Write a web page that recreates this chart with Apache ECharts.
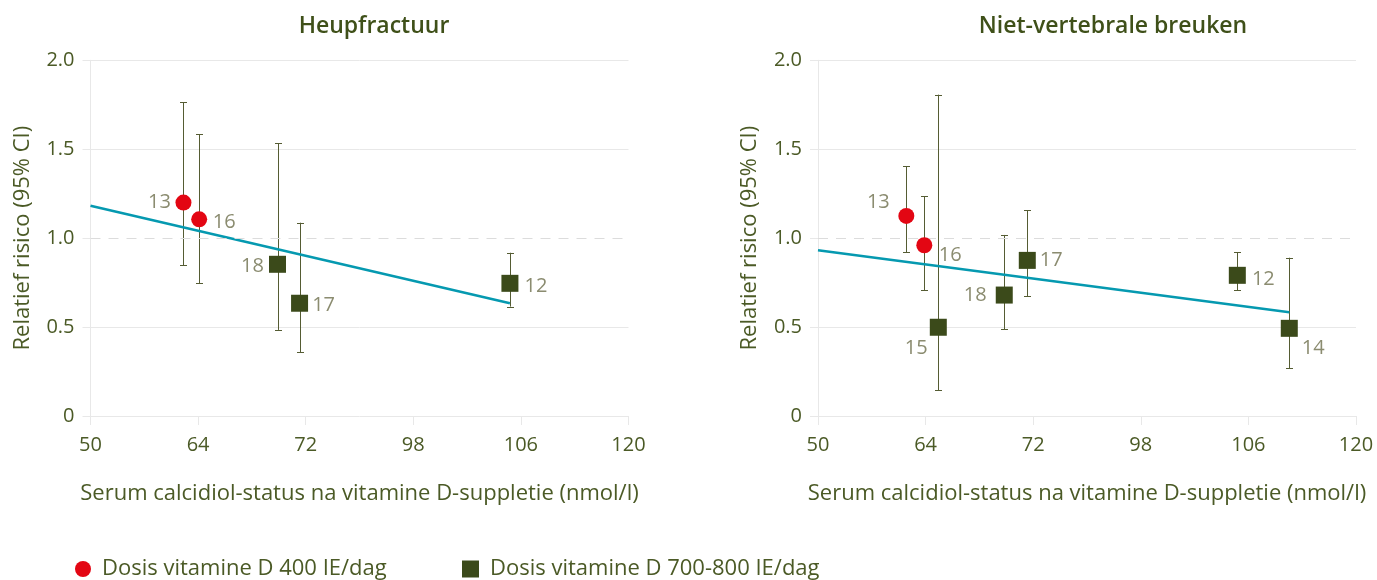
<!DOCTYPE html>
<html>
<head>
<meta charset="utf-8">
<script src="https://cdn.jsdelivr.net/npm/echarts@6/dist/echarts.min.js"></script>
<style>
html,body{margin:0;padding:0;background:#fff;}
#chart{width:1377px;height:580px;}
</style>
</head>
<body>
<div id="chart"></div>
<script>
// ---- data ----
const xTickLabels = ['50', '64', '72', '98', '106', '120'];
const titles = ['Heupfractuur', 'Niet-vertebrale breuken'];
const seriesNames = ['Dosis vitamine D 400 IE/dag', 'Dosis vitamine D 700-800 IE/dag'];

// Heupfractuur
const hipStudy = ['13', '16', '18', '17', '12'];
const hipDose  = [400, 400, 800, 800, 800];
const hipX     = [0.864, 1.010, 1.738, 1.943, 3.898];
const hipRR    = [1.20, 1.106, 0.853, 0.634, 0.746];
const hipLo    = [0.849, 0.746, 0.484, 0.358, 0.615];
const hipHi    = [1.764, 1.584, 1.535, 1.087, 0.918];
const hipTrendX = [0, 3.898];
const hipTrendY = [1.182, 0.634];

// Niet-vertebrale breuken
const nvStudy = ['13', '16', '15', '18', '17', '12', '14'];
const nvDose  = [400, 400, 800, 800, 800, 800, 800];
const nvX     = [0.821, 0.988, 1.118, 1.731, 1.945, 3.897, 4.380];
const nvRR    = [1.125, 0.960, 0.499, 0.680, 0.875, 0.791, 0.493];
const nvLo    = [0.920, 0.707, 0.146, 0.489, 0.673, 0.708, 0.268];
const nvHi    = [1.404, 1.235, 1.807, 1.018, 1.157, 0.920, 0.890];
const nvTrendX = [0, 4.380];
const nvTrendY = [0.932, 0.583];

// ---- styles ----
const FONT = '"Open Sans"';
const OLIVE = '#4b5a26';
const TITLE = '#3f5019';
const LABELC = '#8b8c70';
const RED = '#e30613';
const GREEN = '#3b4a1a';
const TEAL = '#0599b0';
const BAR = '#555c33';
const GRIDC = '#e8e8e8';

// label offsets (style, keyed per chart and study)
const labelOffsets = [
  {'13': [-24, 0], '16': [25, 3], '18': [-25, 2], '17': [24, 2], '12': [26, 3]},
  {'13': [-28, -14], '16': [26, 10], '15': [-22, 21], '18': [-29, 0], '17': [24, 0], '12': [26, 4], '14': [24, 20]}
];

const charts = [
  {study: hipStudy, dose: hipDose, x: hipX, rr: hipRR, lo: hipLo, hi: hipHi, tx: hipTrendX, ty: hipTrendY},
  {study: nvStudy, dose: nvDose, x: nvX, rr: nvRR, lo: nvLo, hi: nvHi, tx: nvTrendX, ty: nvTrendY}
];

const gridLeft = [90.5, 818];
const gridWidth = 538;
const gridTop = 60.3;
const gridHeight = 355.7;

const option = {
  backgroundColor: '#fff',
  animation: false,
  textStyle: {fontFamily: FONT},
  title: titles.map((t, i) => ({
    text: t,
    left: [369, 1108][i],
    top: 10,
    textAlign: 'center',
    textStyle: {fontFamily: FONT, fontSize: 23, fontWeight: 600, color: TITLE}
  })),
  legend: seriesNames.map((n, i) => ({
    data: [{name: n, icon: i === 0 ? 'circle' : 'rect'}],
    left: [75, 462][i],
    top: 558,
    padding: 0,
    itemWidth: i === 0 ? 16 : 17,
    itemHeight: i === 0 ? 16 : 17,
    itemGap: 10,
    textStyle: {fontFamily: FONT, fontSize: 22, color: OLIVE, padding: [0, 0, 0, 6]}
  })),
  grid: gridLeft.map(l => ({left: l, top: gridTop, width: gridWidth, height: gridHeight, containLabel: false})),
  xAxis: gridLeft.map((l, i) => ({
    type: 'value', gridIndex: i, min: 0, max: 5, interval: 1,
    name: 'Serum calcidiol-status na vitamine D-suppletie (nmol/l)',
    nameLocation: 'middle', nameGap: 67,
    nameTextStyle: {fontFamily: FONT, fontSize: 22, color: OLIVE},
    axisLine: {show: true, lineStyle: {color: GRIDC, width: 1}},
    axisTick: {show: true, length: 9, lineStyle: {color: GRIDC}},
    axisLabel: {margin: 19, fontFamily: FONT, fontSize: 20, color: OLIVE,
      formatter: v => xTickLabels[Math.round(v)]},
    splitLine: {show: false}
  })),
  yAxis: gridLeft.map((l, i) => ({
    type: 'value', gridIndex: i, min: 0, max: 2, interval: 0.5,
    name: 'Relatief risico (95% CI)',
    nameLocation: 'middle', nameGap: 57, nameRotate: 90,
    nameTextStyle: {fontFamily: FONT, fontSize: 22, color: OLIVE},
    axisLine: {show: true, lineStyle: {color: GRIDC, width: 1}},
    axisTick: {show: true, length: 8, lineStyle: {color: GRIDC}},
    axisLabel: {margin: 16, fontFamily: FONT, fontSize: 20, color: OLIVE,
      formatter: v => v === 0 ? '0' : v.toFixed(1)},
    splitLine: {show: true, lineStyle: {color: ['rgba(0,0,0,0)', GRIDC, 'rgba(0,0,0,0)', GRIDC, GRIDC], width: 1}}
  })),
  series: []
};

charts.forEach((c, gi) => {
  // error bars
  option.series.push({
    type: 'custom', xAxisIndex: gi, yAxisIndex: gi, z: 2, silent: true,
    data: c.x.map((x, k) => [x, c.lo[k], c.hi[k]]),
    renderItem: (params, api) => {
      const x = api.value(0);
      const top = api.coord([x, api.value(2)]);
      const bot = api.coord([x, api.value(1)]);
      const px = Math.round(top[0]) + 0.5;
      const w = 3.5;
      const st = {stroke: BAR, lineWidth: 1};
      return {type: 'group', children: [
        {type: 'line', shape: {x1: px, y1: top[1], x2: px, y2: bot[1]}, style: st},
        {type: 'line', shape: {x1: px - w, y1: Math.round(top[1]) + 0.5, x2: px + w, y2: Math.round(top[1]) + 0.5}, style: st},
        {type: 'line', shape: {x1: px - w, y1: Math.round(bot[1]) + 0.5, x2: px + w, y2: Math.round(bot[1]) + 0.5}, style: st}
      ]};
    }
  });
  // dashed reference line at 1.0
  option.series.push({
    type: 'line', xAxisIndex: gi, yAxisIndex: gi, z: 1, data: [], silent: true,
    markLine: {symbol: 'none', silent: true, label: {show: false},
      lineStyle: {color: '#dcdcdc', type: [10, 8], width: 1},
      data: [{yAxis: 1}]}
  });
  // trend line
  option.series.push({
    type: 'line', xAxisIndex: gi, yAxisIndex: gi, z: 3, silent: true,
    data: c.tx.map((x, k) => [x, c.ty[k]]),
    symbol: 'none', lineStyle: {color: TEAL, width: 2.5}
  });
  // points
  [400, 800].forEach((d, si) => {
    const data = [];
    c.x.forEach((x, k) => {
      if (c.dose[k] !== d) return;
      const off = labelOffsets[gi][c.study[k]];
      data.push({value: [x, c.rr[k]], label: {offset: off}, studyName: c.study[k]});
    });
    option.series.push({
      name: seriesNames[si],
      type: 'scatter', xAxisIndex: gi, yAxisIndex: gi, z: 5,
      symbol: si === 0 ? 'circle' : 'rect',
      symbolSize: si === 0 ? 16 : 17,
      itemStyle: {color: si === 0 ? RED : GREEN, opacity: 1},
      label: {show: true, position: 'inside', fontFamily: FONT, fontSize: 20, color: LABELC,
        formatter: p => p.data.studyName},
      data: data
    });
  });
});

const chart = echarts.init(document.getElementById('chart'), null, {renderer: 'canvas'});
chart.setOption(option);
</script>
</body>
</html>
